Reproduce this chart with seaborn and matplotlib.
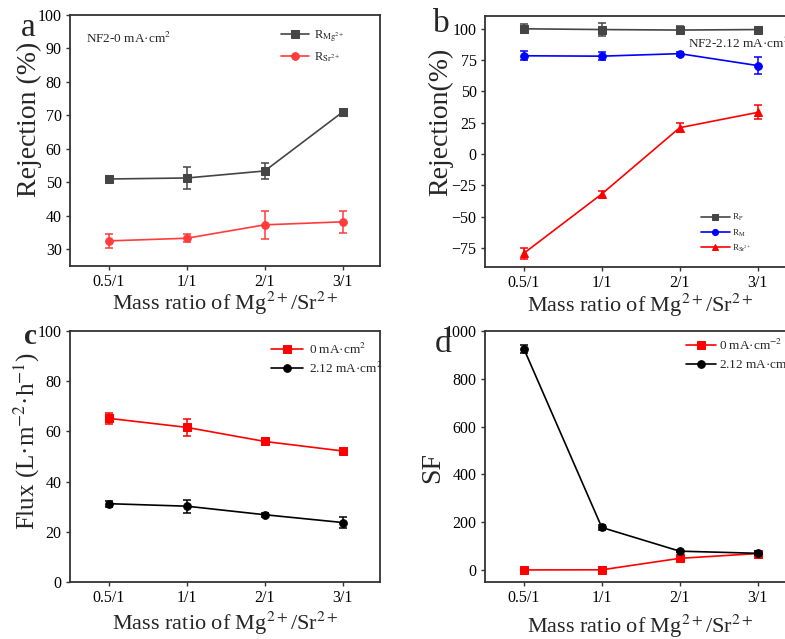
import matplotlib
matplotlib.use("Agg")
import matplotlib.pyplot as plt
import seaborn as sns
import pandas as pd

sns.set_style("ticks")
plt.rcParams['font.family'] = ['Liberation Serif', 'DejaVu Serif']
plt.rcParams['mathtext.fontset'] = 'stix'

ratios = ["0.5/1", "1/1", "2/1", "3/1"]

# panel a
a_mg = [51.0, 51.3, 53.4, 71.0]
a_mg_err = [0.8, 3.2, 2.4, 0.8]
a_sr = [32.5, 33.3, 37.3, 38.2]
a_sr_err = [2.1, 1.2, 4.1, 3.2]

# panel b
b_p = [99.8, 99.2, 98.8, 99.2]
b_p_err = [3.5, 5.0, 3.0, 1.0]
b_m = [78.3, 78.0, 80.0, 70.5]
b_m_err = [3.5, 3.0, 1.5, 7.0]
b_sr = [-79.0, -31.8, 21.0, 33.2]
b_sr_err = [4.5, 2.5, 3.5, 5.5]

# panel c
c_0 = [65.2, 61.6, 56.0, 52.2]
c_0_err = [2.3, 3.4, 1.2, 0.8]
c_212 = [31.2, 30.2, 26.8, 23.7]
c_212_err = [1.2, 2.6, 0.8, 2.1]

# panel d
d_0 = [0.5, 1.0, 49.0, 69.0]
d_0_err = [1.0, 1.0, 3.0, 3.0]
d_212 = [925.0, 178.0, 79.0, 70.0]
d_212_err = [18.0, 10.0, 5.0, 8.0]

fig = plt.figure(figsize=(7.85, 6.39), dpi=100)
W, H = 785, 639

def make_ax(x0, y0, x1, y1):
    return fig.add_axes([x0 / W, 1 - y1 / H, (x1 - x0) / W, (y1 - y0) / H])

axA = make_ax(70, 15, 380, 266)
axB = make_ax(485, 16, 795, 267)
axC = make_ax(70, 331, 380, 582)
axD = make_ax(485, 331, 795, 582)

def series(ax, vals, errs, color, marker, label, ms=5.5, lw=1.2):
    df = pd.DataFrame({"ratio": ratios, "val": vals})
    sns.lineplot(data=df, x="ratio", y="val", ax=ax, color=color, marker=marker,
                 markersize=ms, markeredgecolor=color, linewidth=lw, label=label)
    ax.errorbar(ratios, vals, yerr=errs, fmt='none', ecolor=color, elinewidth=1.1,
                capsize=3, capthick=1.1)

def style(ax, ylim, yticks):
    ax.set_xlim(-0.5, 3.48)
    ax.set_ylim(*ylim)
    ax.set_yticks(yticks)
    ax.tick_params(axis='both', labelsize=11.5, direction='out', length=3, width=1,
                   colors='#333333', labelcolor='black', pad=3)
    for s in ax.spines.values():
        s.set_linewidth(1.3)
        s.set_color('#333333')
    ax.set_xlabel("Mass ratio of Mg$^{2+}$/Sr$^{2+}$", fontsize=16)

gray = '#454545'
red_a = '#ff3b3b'
YL = 20

# Panel a
series(axA, a_mg, a_mg_err, gray, 's', r'R$_{\mathrm{Mg}^{2+}}$')
series(axA, a_sr, a_sr_err, red_a, 'o', r'R$_{\mathrm{Sr}^{2+}}$')
style(axA, (25, 100), [30, 40, 50, 60, 70, 80, 90, 100])
axA.set_ylabel("Rejection (%)", fontsize=YL)
axA.yaxis.set_label_coords(-0.09, 0.586)
axA.xaxis.set_label_coords(0.5, -0.096)
axA.legend(loc='upper left', frameon=False, fontsize=9, handlelength=2.2,
           handletextpad=0.4, bbox_to_anchor=(0.645, 0.99), labelspacing=0.45)
axA.text(0.05, 0.908, "NF2-0 mA·cm$^2$", transform=axA.transAxes, fontsize=9.5, va='center')
fig.text(28 / W, 1 - 28 / H, "a", fontsize=24, ha='center', va='center')

# Panel b
series(axB, b_p, b_p_err, gray, 's', r'R$_\mathrm{P}$')
series(axB, b_m, b_m_err, '#0000ff', 'o', r'R$_\mathrm{M}$')
series(axB, b_sr, b_sr_err, '#ff0000', '^', r'R$_{\mathrm{Sr}^{2+}}$')
style(axB, (-90, 110), [-75, -50, -25, 0, 25, 50, 75, 100])
axB.set_ylabel("Rejection(%)", fontsize=YL)
axB.yaxis.set_label_coords(-0.102, 0.578)
axB.xaxis.set_label_coords(0.5, -0.1)
axB.legend(loc='lower left', frameon=False, fontsize=6.5, handlelength=3.2,
           handletextpad=0.3, markerscale=0.8,
           bbox_to_anchor=(0.67, 0.02), labelspacing=0.45)
axB.text(0.655, 0.892, "NF2-2.12 mA·cm$^2$", transform=axB.transAxes, fontsize=9.5, va='center')
fig.text(441 / W, 1 - 24 / H, "b", fontsize=24, ha='center', va='center')

# Panel c
series(axC, c_0, c_0_err, '#ff0000', 's', "0 mA·cm$^2$")
series(axC, c_212, c_212_err, 'black', 'o', "2.12 mA·cm$^2$")
style(axC, (0, 100), [0, 20, 40, 60, 80, 100])
axC.set_ylabel("Flux (L·m$^{-2}$·h$^{-1}$)", fontsize=18)
axC.yaxis.set_label_coords(-0.09, 0.562)
axC.xaxis.set_label_coords(0.5, -0.112)
axC.legend(loc='upper left', frameon=False, fontsize=9.5, handlelength=2.4,
           handletextpad=0.5, bbox_to_anchor=(0.61, 1.005), labelspacing=0.3)
fig.text(30 / W, 1 - 336 / H, "c", fontsize=21, ha='center', va='center', fontweight='bold')

# Panel d
series(axD, d_0, d_0_err, '#ff0000', 's', "0 mA·cm$^{-2}$")
series(axD, d_212, d_212_err, 'black', 'o', "2.12 mA·cm$^{-2}$")
style(axD, (-50, 1000), [0, 200, 400, 600, 800, 1000])
axD.set_ylabel("SF", fontsize=YL)
axD.yaxis.set_label_coords(-0.128, 0.458)
axD.xaxis.set_label_coords(0.5, -0.124)
axD.legend(loc='upper left', frameon=False, fontsize=9.5, handlelength=2.3,
           handletextpad=0.2, bbox_to_anchor=(0.61, 1.02), labelspacing=0.3)
fig.text(443 / W, 1 - 344 / H, "d", fontsize=24, ha='center', va='center')

fig.savefig("out.png", dpi=100)
